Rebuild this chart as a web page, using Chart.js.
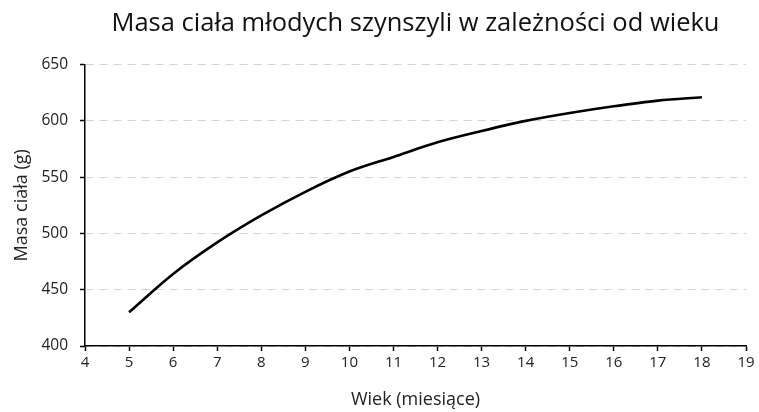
<!DOCTYPE html>
<html>
<head>
<meta charset="utf-8">
<script src="https://cdn.jsdelivr.net/npm/chart.js@4"></script>
<style>
html,body{margin:0;padding:0;background:#fff;}
#wrap{width:759px;height:412px;position:relative;}
</style>
</head>
<body>
<div id="wrap"><canvas id="c" width="759" height="412"></canvas></div>
<script>
const chartTitle = "Masa ciała młodych szynszyli w zależności od wieku";
const xTitle = "Wiek (miesiące)";
const yTitle = "Masa ciała (g)";
const months = [5, 6, 7, 8, 9, 10, 11, 12, 13, 14, 15, 16, 17, 18];
const mass = [430, 464, 492, 516, 537, 555, 568, 581, 591, 600, 607, 613, 618, 621];
const xRange = [4, 19];
const yRange = [400, 650];

const FONT = "'Open Sans', 'DejaVu Sans', sans-serif";

new Chart(document.getElementById('c'), {
  type: 'line',
  data: {
    datasets: [{
      data: months.map((m, i) => ({x: m, y: mass[i]})),
      borderColor: '#000',
      borderWidth: 2.6,
      pointRadius: 0,
      tension: 0.4,
      cubicInterpolationMode: 'monotone',
      fill: false
    }]
  },
  options: {
    responsive: false,
    animation: false,
    devicePixelRatio: 1,
    layout: { padding: { left: 0, right: 13, top: 0, bottom: 0 } },
    plugins: {
      legend: { display: false },
      tooltip: { enabled: false },
      title: {
        display: true,
        fullSize: false,
        text: chartTitle,
        color: '#111',
        font: { family: FONT, size: 25.5, weight: 'normal' },
        padding: { top: 8, bottom: 26 }
      }
    },
    scales: {
      x: {
        type: 'linear',
        min: xRange[0],
        max: xRange[1],
        afterFit: s => { s.height = 66; },
        ticks: {
          stepSize: 1,
          color: '#222',
          font: { family: FONT, size: 15 },
          padding: 3,
          maxRotation: 0
        },
        grid: {
          drawOnChartArea: false,
          tickLength: 5,
          tickColor: '#000',
          tickWidth: 1.5
        },
        border: { color: '#000', width: 1.5 },
        title: {
          display: true,
          text: xTitle,
          color: '#222',
          font: { family: FONT, size: 18 },
          padding: { top: 4, bottom: 1 }
        }
      },
      y: {
        min: yRange[0],
        max: yRange[1],
        afterFit: s => { s.width = 85; },
        ticks: {
          stepSize: 50,
          color: '#222',
          font: { family: FONT, size: 15.5 },
          padding: 12
        },
        grid: {
          color: '#d4d4d4',
          lineWidth: 1,
          tickLength: 5,
          tickColor: '#000',
          tickWidth: 1.5,
          tickBorderDash: [1, 0]
        },
        border: { color: '#000', width: 1.5, dash: [8, 6] },
        title: {
          display: true,
          text: yTitle,
          color: '#222',
          font: { family: FONT, size: 18 },
          padding: { top: 11, bottom: 0 }
        }
      }
    }
  }
});
</script>
</body>
</html>
